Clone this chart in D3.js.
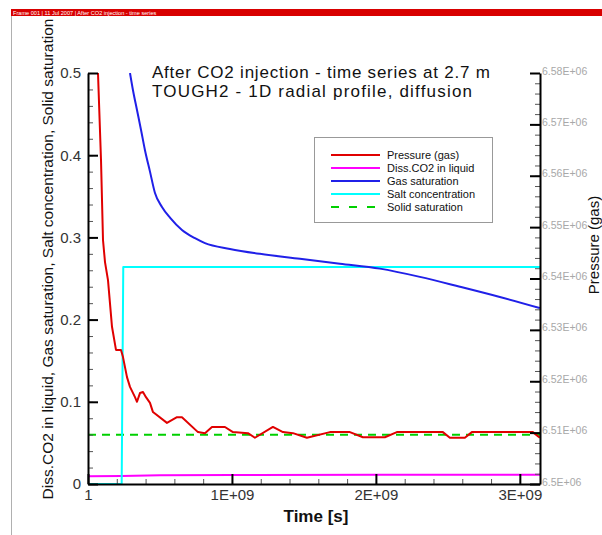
<!DOCTYPE html>
<html>
<head>
<meta charset="utf-8">
<script src="https://cdn.jsdelivr.net/npm/d3@7"></script>
<style>
  html, body { margin: 0; padding: 0; background: #fff; }
  svg { display: block; font-family: "Liberation Sans", Arial, Helvetica, sans-serif; }
</style>
</head>
<body>
<svg id="chart" width="602" height="535"></svg>
<script>
// ---- data -------------------------------------------------------------
// time in seconds, saturations / concentrations as fractions, pressure in Pa
const pressureTime = [0.0694e9, 0.0903e9, 0.1042e9, 0.1181e9, 0.1389e9, 0.1667e9, 0.1944e9, 0.2292e9,
  0.2431e9, 0.2708e9, 0.2917e9, 0.3264e9, 0.3403e9, 0.3611e9, 0.3819e9, 0.4028e9, 0.4306e9, 0.4514e9,
  0.5486e9, 0.6181e9, 0.6528e9, 0.7639e9, 0.8125e9, 0.8611e9, 0.9514e9, 1.0069e9, 1.1111e9, 1.1597e9,
  1.2847e9, 1.3542e9, 1.4236e9, 1.5208e9, 1.6806e9, 1.8194e9, 1.9097e9, 2.0625e9, 2.1458e9, 2.4653e9,
  2.5139e9, 2.6181e9, 2.6667e9, 3.0903e9, 3.1389e9];
const pressureGas = [6.5800e6, 6.5631e6, 6.5475e6, 6.5432e6, 6.5397e6, 6.5306e6, 6.5261e6, 6.5261e6,
  6.5247e6, 6.5208e6, 6.5189e6, 6.5169e6, 6.5160e6, 6.5177e6, 6.5179e6, 6.5169e6, 6.5158e6, 6.5140e6,
  6.5119e6, 6.5130e6, 6.5130e6, 6.5101e6, 6.5099e6, 6.5111e6, 6.5111e6, 6.5101e6, 6.5099e6, 6.5090e6,
  6.5111e6, 6.5101e6, 6.5099e6, 6.5090e6, 6.5101e6, 6.5101e6, 6.5091e6, 6.5091e6, 6.5101e6, 6.5101e6,
  6.5090e6, 6.5090e6, 6.5101e6, 6.5101e6, 6.5090e6];

const dissTime = [1, 0.236e9, 0.5e9, 1.0e9, 2.0e9, 3.14e9];
const dissCO2 = [0.0095, 0.0098, 0.0105, 0.0110, 0.0112, 0.0112];

const gasTime = [0.2917e9, 0.3125e9, 0.3403e9, 0.3681e9, 0.3958e9, 0.4306e9, 0.4653e9, 0.5139e9,
  0.5694e9, 0.6528e9, 0.7431e9, 0.8125e9, 0.9861e9, 1.1944e9, 1.4722e9, 1.75e9, 2.0278e9,
  2.3056e9, 2.5833e9, 2.8611e9, 3.1389e9];
const gasSat = [0.500, 0.479, 0.455, 0.431, 0.406, 0.380, 0.354, 0.337,
  0.324, 0.309, 0.299, 0.293, 0.286, 0.280, 0.274, 0.268, 0.262,
  0.252, 0.240, 0.2275, 0.214];

const saltTime = [1, 0.234e9, 0.245e9, 3.14e9];
const saltConc = [0, 0, 0.264, 0.264];

const solidTime = [1, 3.14e9];
const solidSat = [0.06, 0.06];

const timeTicks = [1, 1e9, 2e9, 3e9];
const timeTickLabels = ["1", "1E+09", "2E+09", "3E+09"];
const leftTicks = [0, 0.1, 0.2, 0.3, 0.4, 0.5];
const leftTickLabels = ["0", "0.1", "0.2", "0.3", "0.4", "0.5"];
const rightTicks = [6.5e6, 6.51e6, 6.52e6, 6.53e6, 6.54e6, 6.55e6, 6.56e6, 6.57e6, 6.58e6];
const rightTickLabels = ["6.5E+06", "6.51E+06", "6.52E+06", "6.53E+06", "6.54E+06",
  "6.55E+06", "6.56E+06", "6.57E+06", "6.58E+06"];

const legendNames = ["Pressure (gas)", "Diss.CO2 in liquid", "Gas saturation", "Salt concentration", "Solid saturation"];
const seriesColors = ["#e00000", "#ff00ff", "#2020e8", "#00ffff", "#00d000"];

// ---- layout -----------------------------------------------------------
const svg = d3.select("#chart");
const plot = { left: 88, right: 540, top: 73, bottom: 484 };

const x = d3.scaleLinear().domain([0, 3.14e9]).range([plot.left, plot.right]);
const yL = d3.scaleLinear().domain([0, 0.5]).range([plot.bottom, plot.top]);
const yR = d3.scaleLinear().domain([6.5e6, 6.58e6]).range([plot.bottom, plot.top]);

// header strip
svg.append("rect").attr("x", 11).attr("y", 9).attr("width", 591).attr("height", 7).attr("fill", "#d80000");
svg.append("text").attr("x", 13).attr("y", 14.6).attr("fill", "#fff").attr("font-size", 5.6)
  .text("Frame 001  |  11 Jul 2007  |  After CO2 injection - time series");
svg.append("line").attr("x1", 11.5).attr("x2", 11.5).attr("y1", 16).attr("y2", 535)
  .attr("stroke", "#b0b0b0").attr("stroke-width", 1);

// clip region for curves
svg.append("defs").append("clipPath").attr("id", "plotClip")
  .append("rect").attr("x", plot.left).attr("y", plot.top)
  .attr("width", plot.right - plot.left).attr("height", plot.bottom - plot.top);

const curves = svg.append("g").attr("clip-path", "url(#plotClip)");
function drawSeries(ts, vs, yScale, color, dash, curve) {
  const pts = ts.map((t, i) => [t, vs[i]]);
  curves.append("path").datum(pts)
    .attr("fill", "none").attr("stroke", color).attr("stroke-width", 2)
    .attr("stroke-dasharray", dash || null)
    .attr("stroke-linejoin", "round")
    .attr("d", d3.line().curve(curve || d3.curveLinear).x(d => x(d[0])).y(d => yScale(d[1])));
}
drawSeries(solidTime, solidSat, yL, seriesColors[4], "8,6");
drawSeries(dissTime, dissCO2, yL, seriesColors[1]);
drawSeries(saltTime, saltConc, yL, seriesColors[3]);
drawSeries(gasTime, gasSat, yL, seriesColors[2], null, d3.curveMonotoneX);
drawSeries(pressureTime, pressureGas, yR, seriesColors[0]);

// ---- axes -------------------------------------------------------------
function minorTicks(scale, step) {
  const [a, b] = scale.domain();
  const out = [];
  for (let v = Math.ceil(a / step) * step; v <= b + step * 1e-6; v += step) out.push(v);
  return out;
}
function styleAxis(g, labelColor, size) {
  g.select(".domain").attr("stroke", "#000").attr("stroke-width", 2);
  g.selectAll(".tick line").attr("stroke", "#000").attr("stroke-width", 2);
  g.selectAll(".tick text").attr("fill", labelColor).attr("font-size", size)
    .attr("font-family", "'Liberation Sans', Arial, sans-serif");
}

// left axis
svg.append("g").attr("transform", `translate(${plot.left},0)`)
  .call(d3.axisLeft(yL).tickValues(minorTicks(yL, 0.02)).tickSize(-5).tickFormat(""))
  .call(g => { g.select(".domain").remove(); g.selectAll("line").attr("stroke", "#555").attr("stroke-width", 1); });
svg.append("g").attr("transform", `translate(${plot.left},0)`)
  .call(d3.axisLeft(yL).tickValues(leftTicks).tickSizeInner(-10).tickSizeOuter(0).tickPadding(7)
    .tickFormat((d, i) => leftTickLabels[i]))
  .call(g => styleAxis(g, "#333", 15));

// right axis
svg.append("g").attr("transform", `translate(${plot.right},0)`)
  .call(d3.axisRight(yR).tickValues(minorTicks(yR, 2000)).tickSize(-5).tickFormat(""))
  .call(g => { g.select(".domain").remove(); g.selectAll("line").attr("stroke", "#555").attr("stroke-width", 1); });
svg.append("g").attr("transform", `translate(${plot.right},0)`)
  .call(d3.axisRight(yR).tickValues(rightTicks).tickSizeInner(-10).tickSizeOuter(0).tickPadding(2)
    .tickFormat((d, i) => rightTickLabels[i]))
  .call(g => { styleAxis(g, "#a8a8a8", 10.5); g.selectAll(".tick text").attr("dy", "0.1em"); });

// bottom axis
svg.append("g").attr("transform", `translate(0,${plot.bottom})`)
  .call(d3.axisBottom(x).tickValues(minorTicks(x, 0.2e9)).tickSize(-5).tickFormat(""))
  .call(g => { g.select(".domain").remove(); g.selectAll("line").attr("stroke", "#555").attr("stroke-width", 1); });
svg.append("g").attr("transform", `translate(0,${plot.bottom})`)
  .call(d3.axisBottom(x).tickValues(timeTicks).tickSizeInner(-10).tickSizeOuter(0).tickPadding(5)
    .tickFormat((d, i) => timeTickLabels[i]))
  .call(g => styleAxis(g, "#333", 15));

// ---- titles -----------------------------------------------------------
svg.append("text").attr("x", 316).attr("y", 522).attr("text-anchor", "middle")
  .attr("font-size", 17).attr("font-weight", "bold").attr("fill", "#111").text("Time [s]");

svg.append("text").attr("transform", "translate(53,259) rotate(-90)").attr("text-anchor", "middle")
  .attr("font-size", 15.5).attr("fill", "#111")
  .text("Diss.CO2 in liquid, Gas saturation, Salt concentration, Solid saturation");

svg.append("text").attr("transform", "translate(599,245) rotate(-90)").attr("text-anchor", "middle")
  .attr("font-size", 15).attr("fill", "#111").text("Pressure (gas)");

const titleLines = ["After CO2 injection - time series at 2.7 m", "TOUGH2 - 1D radial profile, diffusion"];
const titleWidths = [338, 320];
const titleBaselines = [78, 97];
titleLines.forEach((line, i) => {
  svg.append("text").attr("x", 152).attr("y", titleBaselines[i])
    .attr("font-size", 17).attr("fill", "#111")
    .attr("textLength", titleWidths[i]).attr("lengthAdjust", "spacing")
    .text(line);
});

// ---- legend -----------------------------------------------------------
const legend = svg.append("g");
legend.append("rect").attr("x", 314.5).attr("y", 137.5).attr("width", 178).attr("height", 85)
  .attr("fill", "#fff").attr("stroke", "#999").attr("stroke-width", 1);
legendNames.forEach((name, i) => {
  const yy = 155 + i * 13;
  legend.append("line").attr("x1", 331).attr("x2", 380).attr("y1", yy).attr("y2", yy)
    .attr("stroke", seriesColors[i]).attr("stroke-width", 2)
    .attr("stroke-dasharray", i === 4 ? "8,10" : null);
  legend.append("text").attr("x", 387).attr("y", yy + 4).attr("font-size", 11).attr("fill", "#111").text(name);
});
</script>
</body>
</html>
